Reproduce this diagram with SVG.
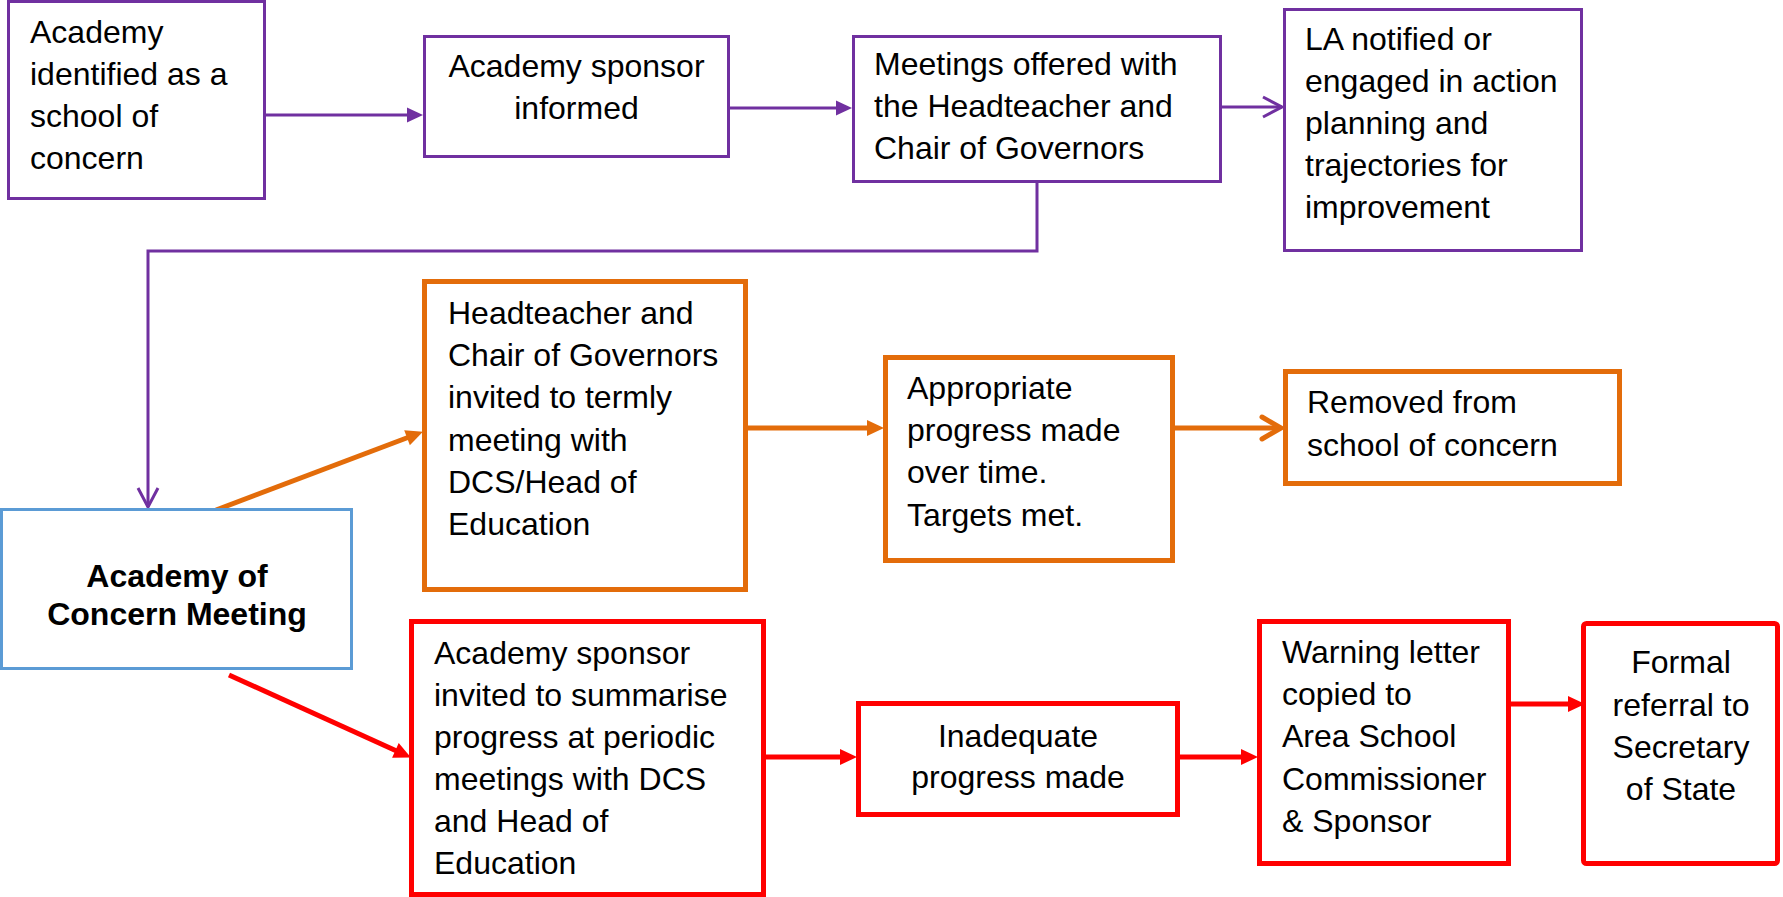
<svg xmlns="http://www.w3.org/2000/svg" width="1783" height="897" viewBox="0 0 1783 897">
<style>
  .t { font-family: "Liberation Sans", Arial, sans-serif; font-size: 32px; fill: #000; }
  .c { text-anchor: middle; }
  .b { font-weight: bold; }
  .bx { fill: #fff; }
  .pu { stroke: #7030A0; stroke-width: 3; }
  .bl { stroke: #5B9BD5; stroke-width: 3; }
  .or { stroke: #E36C0A; stroke-width: 5; }
  .rd { stroke: #FF0000; stroke-width: 5; }
  .ln { fill: none; }
</style>
<defs>
  <marker id="fp" markerUnits="userSpaceOnUse" markerWidth="20" markerHeight="20" refX="8" refY="8" orient="auto" overflow="visible">
    <path d="M0,0.5 L16,8 L0,15.5 z" fill="#7030A0"/>
  </marker>
  <marker id="vp" markerUnits="userSpaceOnUse" markerWidth="24" markerHeight="24" refX="20" refY="10" orient="auto" overflow="visible">
    <path d="M1,0 L20,10 L1,20" fill="none" stroke="#7030A0" stroke-width="3"/>
  </marker>
  <marker id="fo" markerUnits="userSpaceOnUse" markerWidth="20" markerHeight="20" refX="8" refY="8" orient="auto" overflow="visible">
    <path d="M0,0 L17,8 L0,16 z" fill="#E36C0A"/>
  </marker>
  <marker id="vo" markerUnits="userSpaceOnUse" markerWidth="26" markerHeight="26" refX="20" refY="11" orient="auto" overflow="visible">
    <path d="M1,0 L20,11 L1,22" fill="none" stroke="#E36C0A" stroke-width="5" stroke-linecap="round"/>
  </marker>
  <marker id="fr" markerUnits="userSpaceOnUse" markerWidth="20" markerHeight="20" refX="8" refY="8" orient="auto" overflow="visible">
    <path d="M0,0 L17,8 L0,16 z" fill="#FF0000"/>
  </marker>
</defs>

<g id="connectors">
  <path class="ln pu" d="M266,115 H415" marker-end="url(#fp)"/>
  <path class="ln pu" d="M730,108 H844" marker-end="url(#fp)"/>
  <path class="ln pu" d="M1222,107 H1282" marker-end="url(#vp)"/>
  <path class="ln pu" d="M1037,183 V251 H148 V507" marker-end="url(#vp)"/>
  <path class="ln or" d="M216,510 L414.5,435" marker-end="url(#fo)"/>
  <path class="ln or" d="M748,428 H875" marker-end="url(#fo)"/>
  <path class="ln or" d="M1175,428 H1281" marker-end="url(#vo)"/>
  <path class="ln rd" d="M229,675 L402.7,753.7" marker-end="url(#fr)"/>
  <path class="ln rd" d="M766,757 H848" marker-end="url(#fr)"/>
  <path class="ln rd" d="M1180,757 H1249" marker-end="url(#fr)"/>
  <path class="ln rd" d="M1511,704 H1576" marker-end="url(#fr)"/>
</g>

<g id="n1">
  <rect class="bx pu" x="8.5" y="1.5" width="256" height="197"/>
  <text class="t" x="30" y="43">Academy</text>
  <text class="t" x="30" y="85">identified as a</text>
  <text class="t" x="30" y="127">school of</text>
  <text class="t" x="30" y="169">concern</text>
</g>
<g id="n2">
  <rect class="bx pu" x="424.5" y="36.5" width="304" height="120"/>
  <text class="t c" x="576.5" y="77">Academy sponsor</text>
  <text class="t c" x="576.5" y="119">informed</text>
</g>
<g id="n3">
  <rect class="bx pu" x="853.5" y="36.5" width="367" height="145"/>
  <text class="t" x="874" y="75">Meetings offered with</text>
  <text class="t" x="874" y="117">the Headteacher and</text>
  <text class="t" x="874" y="159">Chair of Governors</text>
</g>
<g id="n4">
  <rect class="bx pu" x="1284.5" y="9.5" width="297" height="241"/>
  <text class="t" x="1305" y="50">LA notified or</text>
  <text class="t" x="1305" y="92">engaged in action</text>
  <text class="t" x="1305" y="134">planning and</text>
  <text class="t" x="1305" y="176">trajectories for</text>
  <text class="t" x="1305" y="218">improvement</text>
</g>
<g id="n5">
  <rect class="bx bl" x="1.5" y="509.5" width="350" height="159"/>
  <text class="t c b" x="177" y="587">Academy of</text>
  <text class="t c b" x="177" y="625">Concern Meeting</text>
</g>
<g id="n6">
  <rect class="bx or" x="424.5" y="281.5" width="321" height="308"/>
  <text class="t" x="448" y="324">Headteacher and</text>
  <text class="t" x="448" y="366">Chair of Governors</text>
  <text class="t" x="448" y="408">invited to termly</text>
  <text class="t" x="448" y="451">meeting with</text>
  <text class="t" x="448" y="493">DCS/Head of</text>
  <text class="t" x="448" y="535">Education</text>
</g>
<g id="n7">
  <rect class="bx or" x="885.5" y="357.5" width="287" height="203"/>
  <text class="t" x="907" y="399">Appropriate</text>
  <text class="t" x="907" y="441">progress made</text>
  <text class="t" x="907" y="483">over time.</text>
  <text class="t" x="907" y="526">Targets met.</text>
</g>
<g id="n8">
  <rect class="bx or" x="1285.5" y="371.5" width="334" height="112"/>
  <text class="t" x="1307" y="413">Removed from</text>
  <text class="t" x="1307" y="456">school of concern</text>
</g>
<g id="n9">
  <rect class="bx rd" x="411.5" y="621.5" width="352" height="273"/>
  <text class="t" x="434" y="664">Academy sponsor</text>
  <text class="t" x="434" y="706">invited to summarise</text>
  <text class="t" x="434" y="748">progress at periodic</text>
  <text class="t" x="434" y="790">meetings with DCS</text>
  <text class="t" x="434" y="832">and Head of</text>
  <text class="t" x="434" y="874">Education</text>
</g>
<g id="n10">
  <rect class="bx rd" x="858.5" y="703.5" width="319" height="111"/>
  <text class="t c" x="1018" y="747">Inadequate</text>
  <text class="t c" x="1018" y="788">progress made</text>
</g>
<g id="n11">
  <rect class="bx rd" x="1259.5" y="621.5" width="249" height="242"/>
  <text class="t" x="1282" y="663">Warning letter</text>
  <text class="t" x="1282" y="705">copied to</text>
  <text class="t" x="1282" y="747">Area School</text>
  <text class="t" x="1282" y="790">Commissioner</text>
  <text class="t" x="1282" y="832">&amp; Sponsor</text>
</g>
<g id="n12">
  <rect class="bx rd" x="1583.5" y="623.5" width="194" height="240" rx="3"/>
  <text class="t c" x="1681" y="673">Formal</text>
  <text class="t c" x="1681" y="716">referral to</text>
  <text class="t c" x="1681" y="758">Secretary</text>
  <text class="t c" x="1681" y="800">of State</text>
</g>
</svg>
